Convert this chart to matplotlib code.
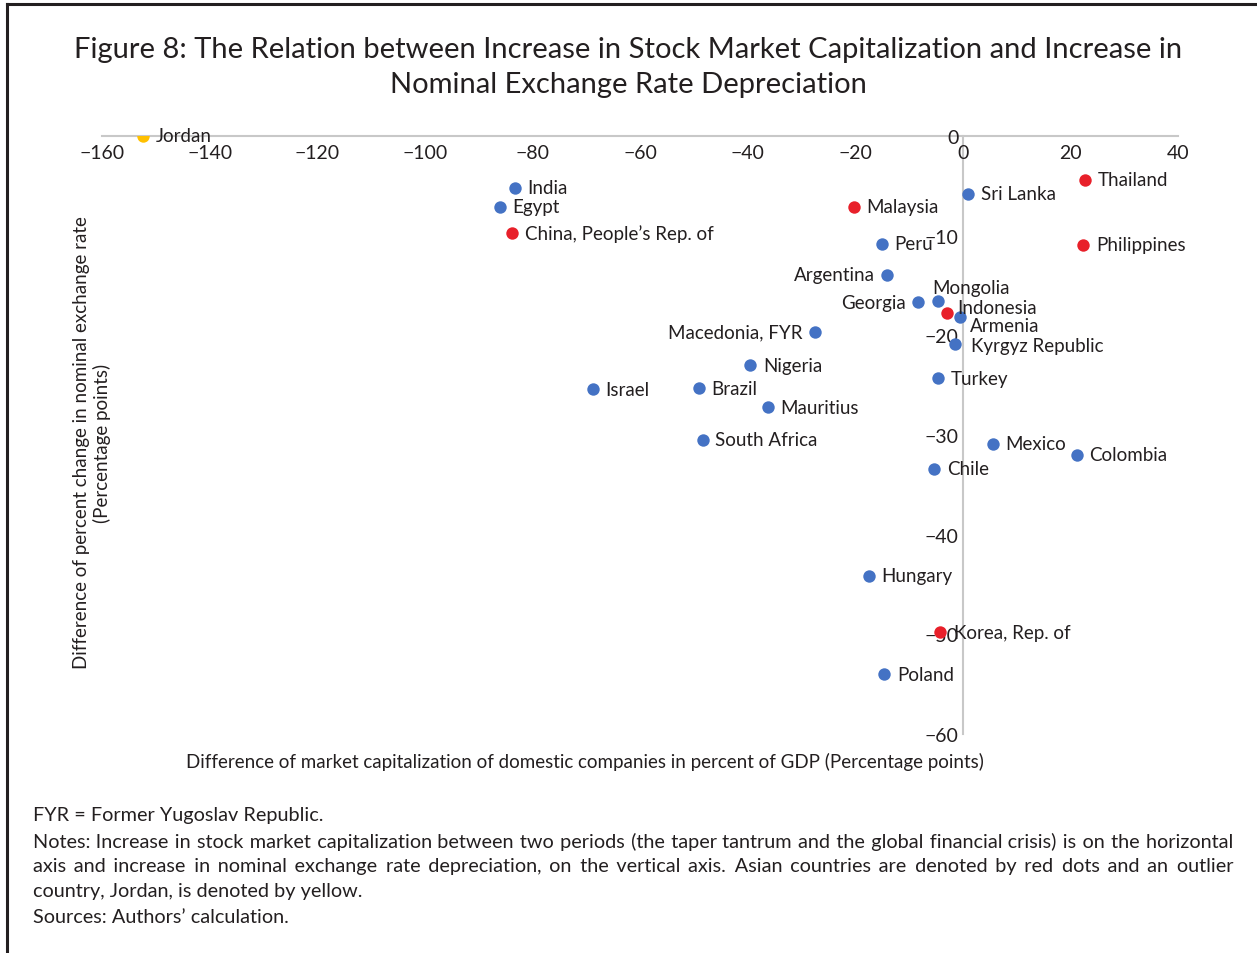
import matplotlib
matplotlib.use("Agg")
import matplotlib.pyplot as plt
from matplotlib.lines import Line2D

countries = ["Jordan", "India", "Egypt", "China, People\u2019s Rep. of", "Malaysia", "Sri Lanka",
             "Thailand", "Philippines", "Peru", "Argentina", "Georgia", "Mongolia", "Indonesia",
             "Armenia", "Kyrgyz Republic", "Macedonia, FYR", "Nigeria", "Israel", "Brazil",
             "Mauritius", "Turkey", "South Africa", "Mexico", "Colombia", "Chile", "Hungary",
             "Korea, Rep. of", "Poland"]
market_cap = [-152.4, -83.2, -86.1, -83.7, -20.3, 1.0,
              22.7, 22.4, -15.1, -14.0, -8.3, -4.6, -2.9,
              -0.5, -1.4, -27.4, -39.5, -68.8, -49.0,
              -36.3, -4.6, -48.3, 5.6, 21.2, -5.3, -17.4,
              -4.2, -14.6]
exch_rate = [0.0, -5.2, -7.1, -9.7, -7.1, -5.8,
             -4.4, -10.9, -10.8, -13.9, -16.7, -16.6, -17.8,
             -18.2, -20.9, -19.7, -23.0, -25.4, -25.3,
             -27.2, -24.3, -30.5, -30.9, -32.0, -33.4, -44.1,
             -49.8, -54.0]
group = ["outlier", "other", "other", "asia", "asia", "other",
         "asia", "asia", "other", "other", "other", "other", "asia",
         "other", "other", "other", "other", "other", "other",
         "other", "other", "other", "other", "other", "other", "other",
         "asia", "other"]

x_ticks = [-160, -140, -120, -100, -80, -60, -40, -20, 0, 20, 40]
y_ticks = [0, -10, -20, -30, -40, -50, -60]

colors = {"other": "#4472C4", "asia": "#E8202A", "outlier": "#FFC000"}

# label placement (offset in points, horizontal alignment)
label_pos = {
    "Argentina": (-9, 0, "right"),
    "Georgia": (-9, 0, "right"),
    "Macedonia, FYR": (-9, 0, "right"),
    "Mongolia": (-4, 10, "left"),
    "Indonesia": (7, 4, "left"),
    "Armenia": (7, -6, "left"),
    "Kyrgyz Republic": (11, -1, "left"),
    "Korea, Rep. of": (10, 0, "left"),
}

FONT = "Lato"
plt.rcParams["font.family"] = [FONT, "DejaVu Sans"]
TXT = "#231f20"

fig = plt.figure(figsize=(12.57, 9.54), dpi=100)
ax = fig.add_axes([102 / 1257, 1 - 735 / 954, (1178 - 102) / 1257, (735 - 137) / 954])

for x, y, g in zip(market_cap, exch_rate, group):
    ax.scatter([x], [y], s=80, color=colors[g], zorder=3, linewidths=0)

for name, x, y in zip(countries, market_cap, exch_rate):
    dx, dy, ha = label_pos.get(name, (9, 0, "left"))
    ax.annotate(name, (x, y), xytext=(dx, dy), textcoords="offset points",
                ha=ha, va="center", fontsize=13.5, color=TXT, zorder=4)

ax.set_xlim(-160, 40)
ax.set_ylim(-60, 0)
ax.set_xticks(x_ticks)
ax.set_xticklabels([("\u2212" + str(abs(v))) if v < 0 else str(v) for v in x_ticks])
ax.set_yticks(y_ticks)
ax.set_yticklabels([("\u2212" + str(abs(v))) if v < 0 else str(v) for v in y_ticks])

for s in ["top", "right"]:
    ax.spines[s].set_visible(False)
ax.spines["left"].set_position(("data", 0))
ax.spines["bottom"].set_position(("data", 0))
for s in ["left", "bottom"]:
    ax.spines[s].set_color("#c8c8c8")
    ax.spines[s].set_linewidth(1.5)
    ax.spines[s].set_zorder(1)
ax.tick_params(axis="both", length=0, labelsize=14, colors=TXT)
ax.tick_params(axis="x", pad=6)
ax.tick_params(axis="y", pad=3)
ax.patch.set_alpha(0)

fig.text(0.5, 1 - 50 / 954, "Figure 8: The Relation between Increase in Stock Market Capitalization and Increase in",
         ha="center", va="center", fontsize=21, color=TXT)
fig.text(0.5, 1 - 85 / 954, "Nominal Exchange Rate Depreciation",
         ha="center", va="center", fontsize=21, color=TXT)

fig.text(585 / 1257, 1 - 762 / 954,
         "Difference of market capitalization of domestic companies in percent of GDP (Percentage points)",
         ha="center", va="center", fontsize=13.5, color=TXT)
fig.text(92 / 1257, 1 - 443 / 954,
         "Difference of percent change in nominal exchange rate\n(Percentage points)",
         ha="center", va="center", rotation=90, fontsize=13.5, color=TXT, linespacing=1.15)

notes = [
    "FYR = Former Yugoslav Republic.",
    "Notes: Increase in stock market capitalization between two periods (the taper tantrum and the global financial crisis) is on the horizontal",
    "axis and increase in nominal exchange rate depreciation, on the vertical axis. Asian countries are denoted by red dots and an outlier",
    "country, Jordan, is denoted by yellow.",
    "Sources: Authors\u2019 calculation.",
]
note_y = [816, 842, 867, 892, 918]
justify = [False, True, True, False, False]
NOTE_FS = 14.3
renderer = fig.canvas.get_renderer()
left_px, right_px = 33, 1233
W, H = 1257, 954
HAIR = "\u200a"


def text_width(s):
    tmp = fig.text(0, 0, s, fontsize=NOTE_FS)
    w = tmp.get_window_extent(renderer).width
    tmp.remove()
    return w


hair_w = text_width("a" + HAIR * 10 + "a") - text_width("aa")
hair_w = hair_w / 10.0

for t, yy, j in zip(notes, note_y, justify):
    s = t
    if j and hair_w > 0:
        words = t.split(" ")
        ngaps = len(words) - 1
        extra = (right_px - left_px) - text_width(t)
        nh = max(0, int(round(extra / hair_w)))
        parts = [words[0]]
        for i in range(ngaps):
            k = (nh * (i + 1)) // ngaps - (nh * i) // ngaps
            parts.append(" " + HAIR * k + words[i + 1])
        s = "".join(parts)
    fig.text(left_px / W, 1 - yy / H, s, ha="left", va="center", fontsize=NOTE_FS, color=TXT)

fig.add_artist(Line2D([7 / 1257, 7 / 1257], [0, 1 - 5 / 954], transform=fig.transFigure,
                      color="#231f20", linewidth=2.2))
fig.add_artist(Line2D([7 / 1257, 1.0], [1 - 5 / 954, 1 - 5 / 954], transform=fig.transFigure,
                      color="#231f20", linewidth=2.2))

fig.savefig("out.png", dpi=100, facecolor="white")
